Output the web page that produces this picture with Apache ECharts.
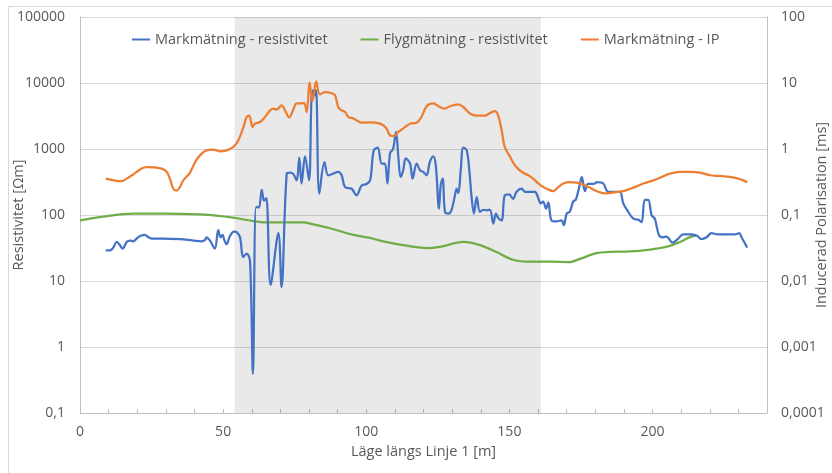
<!DOCTYPE html>
<html>
<head>
<meta charset="utf-8">
<script src="https://cdn.jsdelivr.net/npm/echarts@6/dist/echarts.min.js"></script>
<style>
  html, body { margin: 0; padding: 0; background: #ffffff; }
  #chart { width: 832px; height: 473px; }
</style>
</head>
<body>
<div id="chart"></div>
<script>
// Markmätning - resistivitet [Ωm]
const markPos = [9, 10.5, 11.6, 12.8, 13.7, 14.9, 16.3, 17.5, 18.6, 19.8, 21, 22.7, 23.9, 25, 29, 35, 39.6, 42.5, 43.7, 44.2, 45.4, 47.1, 48.3, 49.1, 49.8, 50.4, 51.2, 52.4, 53.8, 54.7, 55.9, 57, 58.2, 59.4, 60.4, 61.5, 62.5, 63.5, 64.3, 65.1, 66.6, 69.3, 70.4, 72.2, 73.4, 74.5, 75.7, 76.6, 77.4, 78.6, 80, 80.9, 81.5, 82.1, 82.5, 83.6, 85.4, 86.7, 88.5, 90.2, 91.4, 92.6, 94.9, 96.6, 98.4, 100.1, 101.4, 102.6, 104, 105.4, 106.5, 107.4, 108.3, 109.4, 110.4, 111.2, 112, 112.9, 113.8, 115.3, 116.2, 117.6, 118.8, 119.9, 121.1, 122.2, 123.4, 124.3, 125.4, 126, 126.7, 127.5, 128.7, 129.8, 131, 131.6, 132.2, 133, 133.9, 135.1, 136, 136.8, 137.6, 138.6, 139.7, 140.9, 142, 143.2, 144.4, 145.3, 146.1, 147.3, 148.4, 149.9, 151.3, 152.5, 154.3, 155.4, 157.2, 158.9, 160.1, 160.9, 161.8, 162.8, 163.6, 164.7, 166.5, 168.2, 169, 170, 171.1, 172.3, 173.2, 174.4, 175.3, 176.4, 177.5, 179.3, 180.7, 182.8, 184.5, 186.9, 188.6, 189.8, 191.5, 193.3, 195, 196.2, 197.3, 198.5, 199.7, 200.8, 202.3, 203.7, 204.9, 207, 209, 210.7, 213.1, 215.4, 217.1, 218.9, 220.6, 222.9, 225.9, 228.8, 230.3, 231.1, 233.1];
const markRes = [29, 29, 32, 39, 36, 31, 39, 41, 40, 44, 48, 50, 46, 44, 44, 43, 41, 40, 42, 46, 41, 31, 59, 46, 50, 42, 36, 48, 56, 55, 46, 23, 26, 20, 0.39, 132, 130, 240, 165, 180, 8.8, 53, 8.1, 420, 440, 420, 335, 740, 300, 770, 335, 6500, 7800, 6500, 7800, 211, 630, 400, 424, 450, 400, 265, 250, 199, 280, 295, 340, 950, 1050, 600, 600, 300, 860, 1010, 1810, 770, 377, 475, 720, 600, 355, 600, 475, 450, 400, 630, 770, 560, 125, 280, 355, 112, 105, 120, 199, 250, 215, 475, 1050, 955, 475, 187, 105, 187, 112, 120, 118, 120, 74, 105, 90, 83, 199, 205, 175, 225, 250, 225, 225, 225, 180, 150, 160, 125, 155, 83, 80, 83, 70, 105, 112, 160, 170, 265, 377, 230, 295, 295, 315, 300, 225, 225, 225, 150, 112, 88, 85, 78, 170, 170, 99, 88, 49, 46, 47, 38, 44, 51, 51, 49, 43, 46, 53, 51, 51, 51, 53, 46, 32];

// Flygmätning - resistivitet [Ωm]
const flygPos = [0, 7, 18.6, 30, 41.9, 47.7, 53.5, 60.5, 65.8, 72, 78, 81.5, 87.3, 95.5, 101.3, 104.8, 112.9, 121.1, 125.7, 133.9, 139.7, 145.5, 151.3, 157.2, 164.2, 171.1, 174.6, 180.5, 185.1, 192.1, 199.1, 204.9, 209.6, 212.5, 215.2];
const flygRes = [83, 93, 105, 105, 102, 98, 91, 81, 77, 77, 77, 72, 63, 50, 45, 41, 35, 31.6, 33, 39, 35, 27.5, 21, 19.6, 19.6, 19.4, 21.6, 26.5, 27.6, 28, 30, 33, 39, 45, 49];

// Markmätning - IP [ms]
const ipPos = [9, 11.6, 14.6, 16.3, 18.1, 19.8, 21.5, 23.3, 26.2, 28.5, 30.3, 31.4, 32.6, 33.8, 34.9, 36.1, 37.2, 38.4, 40.2, 41.9, 44.2, 46.6, 48.9, 51.2, 53.5, 55.3, 57.1, 58.2, 59.1, 60.3, 61.1, 62.9, 64.6, 66.4, 67.5, 68.7, 70.4, 71.6, 73.1, 74.5, 75.7, 77.4, 78.3, 79.2, 80.2, 81.2, 82.5, 83.8, 85.6, 87.9, 89.1, 90.2, 91.4, 92.6, 93.8, 95.5, 96.6, 98.4, 101.3, 104.8, 106.9, 108.3, 109.7, 111.2, 112.9, 115.3, 117.6, 119.3, 121.1, 123.4, 125.7, 127.5, 129.2, 132.1, 133.9, 136.2, 138.6, 141.5, 143.2, 144.9, 146.1, 147.3, 148.4, 150.2, 151.9, 154.3, 156.6, 158.3, 160.1, 161.8, 163, 165.3, 167.1, 168.8, 171.1, 173.5, 175.8, 178.1, 181, 183.4, 186.3, 189.8, 193.3, 196.8, 200.3, 203.2, 206.1, 209.6, 213.1, 216.6, 220.1, 223.5, 227, 229.9, 231.7, 233.1];
const ipVal = [0.356, 0.336, 0.325, 0.356, 0.40, 0.45, 0.505, 0.533, 0.525, 0.505, 0.45, 0.356, 0.25, 0.235, 0.265, 0.336, 0.38, 0.435, 0.63, 0.80, 0.955, 0.98, 0.92, 0.955, 1.07, 1.35, 2.15, 3.05, 3.2, 2.15, 2.42, 2.56, 3.05, 3.85, 4.1, 3.95, 4.6, 3.85, 3.0, 3.95, 4.9, 4.9, 5.0, 3.6, 10.2, 5.3, 10.6, 6.7, 7.3, 7.0, 6.5, 4.33, 3.85, 3.64, 3.05, 2.9, 2.73, 2.5, 2.53, 2.42, 2.1, 1.61, 1.57, 1.81, 2.04, 2.42, 2.5, 3.05, 4.44, 4.9, 4.33, 4.1, 4.44, 4.73, 4.33, 3.45, 3.2, 3.2, 3.5, 3.75, 3.2, 1.92, 1.07, 0.77, 0.567, 0.45, 0.40, 0.356, 0.30, 0.265, 0.25, 0.23, 0.265, 0.30, 0.315, 0.31, 0.29, 0.26, 0.225, 0.213, 0.22, 0.23, 0.26, 0.30, 0.335, 0.377, 0.424, 0.45, 0.45, 0.44, 0.40, 0.39, 0.377, 0.356, 0.335, 0.315];

// Shaded section along the line [m]
const bandStart = 54;
const bandEnd = 161;

const zip = (xs, ys) => xs.map((x, i) => [x, ys[i]]);

// Decimal comma labels for decade ticks
function decadeLabel(v) {
  const e = Math.round(Math.log10(v));
  if (e >= 0) return '1' + '0'.repeat(e);
  return '0,' + '0'.repeat(-e - 1) + '1';
}

const FONT = 'Open Sans';
const TXT = '#595959';
const AXIS = '#bfbfbf';
const GRID = '#d9d9d9';

const chart = echarts.init(document.getElementById('chart'), null, { renderer: 'canvas' });

chart.setOption({
  backgroundColor: '#ffffff',
  animation: false,
  textStyle: { fontFamily: FONT, color: TXT },
  graphic: [{
    type: 'rect',
    shape: { x: 8.5, y: 6.5, width: 900, height: 500 },
    style: { fill: 'none', stroke: GRID, lineWidth: 1 },
    silent: true
  }],
  grid: { left: 80, right: 65, top: 17, bottom: 60, containLabel: false, outerBoundsMode: 'none' },
  legend: {
    top: 27,
    left: 127,
    icon: 'rect',
    itemWidth: 18,
    itemHeight: 2,
    itemGap: 33,
    textStyle: { fontFamily: FONT, fontSize: 14.5, color: TXT },
    data: ['Markmätning - resistivitet', 'Flygmätning - resistivitet', 'Markmätning - IP']
  },
  xAxis: {
    type: 'value',
    min: 0,
    max: 240,
    interval: 10,
    name: 'Läge längs Linje 1 [m]',
    nameLocation: 'middle',
    nameGap: 31,
    nameMoveOverlap: false,
    nameTextStyle: { fontFamily: FONT, fontSize: 14.5, color: TXT },
    axisLine: { show: true, lineStyle: { color: AXIS, width: 1 } },
    axisTick: { show: true, inside: true, length: 4, lineStyle: { color: AXIS } },
    axisLabel: {
      margin: 12,
      fontFamily: FONT, fontSize: 14, color: TXT,
      formatter: v => (v % 50 === 0 ? String(v) : '')
    },
    splitLine: { show: false }
  },
  yAxis: [{
    type: 'log',
    logBase: 10,
    min: 0.1,
    max: 100000,
    interval: 1,
    position: 'left',
    name: 'Resistivitet [Ωm]',
    nameLocation: 'middle',
    nameGap: 54,
    nameRotate: 90,
    nameMoveOverlap: false,
    nameTextStyle: { fontFamily: FONT, fontSize: 14.5, color: TXT },
    axisLine: { show: true, lineStyle: { color: AXIS, width: 1 } },
    axisTick: { show: false },
    axisLabel: { margin: 15, fontFamily: FONT, fontSize: 14, color: TXT, formatter: decadeLabel },
    splitLine: { show: true, lineStyle: { color: GRID, width: 1 } },
    minorTick: { show: false },
    minorSplitLine: { show: false }
  }, {
    type: 'log',
    logBase: 10,
    min: 0.0001,
    max: 100,
    interval: 1,
    position: 'right',
    name: 'Inducerad Polarisation [ms]',
    nameLocation: 'middle',
    nameGap: 47,
    nameRotate: 90,
    nameMoveOverlap: false,
    nameTextStyle: { fontFamily: FONT, fontSize: 14.5, color: TXT },
    axisLine: { show: true, lineStyle: { color: AXIS, width: 1 } },
    axisTick: { show: false },
    axisLabel: { margin: 14, fontFamily: FONT, fontSize: 14, color: TXT, formatter: decadeLabel },
    splitLine: { show: false }
  }],
  series: [{
    name: 'band',
    type: 'line',
    data: [],
    silent: true,
    z: 1,
    markArea: {
      silent: true,
      itemStyle: { color: 'rgba(0,0,0,0.085)' },
      data: [[{ xAxis: bandStart }, { xAxis: bandEnd }]]
    }
  }, {
    name: 'Markmätning - resistivitet',
    type: 'line',
    yAxisIndex: 0,
    data: zip(markPos, markRes),
    showSymbol: false,
    symbol: 'none',
    smooth: 0.35,
    z: 3,
    itemStyle: { color: '#4472c4' },
    lineStyle: { color: '#4472c4', width: 2.25 }
  }, {
    name: 'Flygmätning - resistivitet',
    type: 'line',
    yAxisIndex: 0,
    data: zip(flygPos, flygRes),
    showSymbol: false,
    symbol: 'none',
    smooth: 0.35,
    z: 2,
    itemStyle: { color: '#70ad47' },
    lineStyle: { color: '#70ad47', width: 2.25 }
  }, {
    name: 'Markmätning - IP',
    type: 'line',
    yAxisIndex: 1,
    data: zip(ipPos, ipVal),
    showSymbol: false,
    symbol: 'none',
    smooth: 0.35,
    z: 3,
    itemStyle: { color: '#ed7d31' },
    lineStyle: { color: '#ed7d31', width: 2.25 }
  }]
});
</script>
</body>
</html>
